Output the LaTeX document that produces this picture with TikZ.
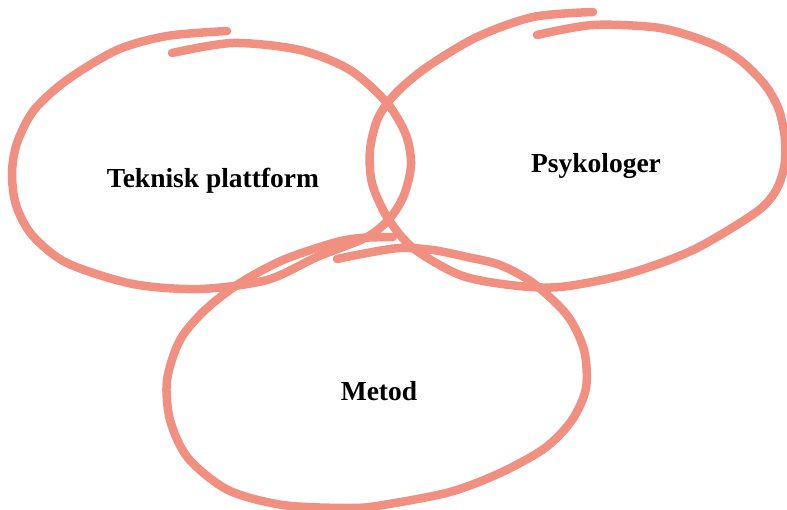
\documentclass[tikz,border=0pt]{standalone}
\usepackage{fontspec}
\setmainfont{Liberation Serif}
\definecolor{salmon}{RGB}{241,144,129}
\tikzset{
    loop/.style={salmon, line width=8.5pt, line cap=round, line join=round},
    label/.style={font=\bfseries\fontsize{27.5}{30}\selectfont, anchor=base}
}
\begin{document}
\begin{tikzpicture}[x=1pt, y=-1pt]
    % Canvas
    \useasboundingbox (0,0) rectangle (787,510);
    % Tails of the loops
    \coordinate (ta) at (172,53);
    \coordinate (tb) at (227,31);
    \coordinate (pa) at (537,35);
    \coordinate (pb) at (593,12);
    \coordinate (ma) at (393,237);
    \coordinate (mb) at (337,259);
    % Draw loops
    \draw [loop] plot [smooth] coordinates {(ta) (233,43) (300,50) (350,70) (387,103) (406,135) (411,165) (404,195) (390,218) (367,237) (317,257) (267,280) (200,289) (133,284) (67,263) (32,235) (16,205) (12,173) (17,143) (34,110) (67,80) (117,50) (167,36) (tb)};
    \draw [loop] plot [smooth] coordinates {(pa) (593,25) (660,28) (710,43) (740,60) (765,85) (779,110) (785,140) (784,168) (775,192) (755,213) (693,250) (627,274) (560,287) (510,285) (460,275) (413,248) (387,217) (372,183) (370,150) (378,118) (396,93) (427,67) (477,37) (533,17) (pb)};
    \draw [loop] plot [smooth] coordinates {(ma) (360,238) (333,243) (283,260) (240,283) (205,310) (180,340) (167,380) (170,420) (188,458) (228,490) (283,505) (350,508) (383,505) (450,492) (500,473) (545,448) (572,420) (586,388) (584,350) (567,315) (533,283) (500,265) (467,257) (433,250) (400,248) (367,253) (mb)};
    % Labels
    \node [label] (teknik) at (213,188) {Teknisk plattform};
    \node [label] (psyk) at (596,173) {Psykologer};
    \node [label] (metod) at (379,400) {Metod};
\end{tikzpicture}
\end{document}
